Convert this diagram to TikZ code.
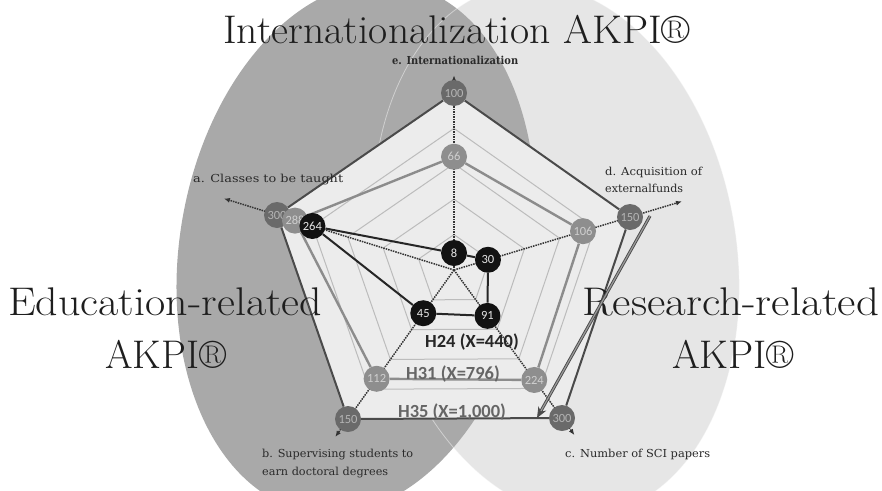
\documentclass[tikz,border=0pt]{standalone}
\usepackage{fontspec}
\usepackage{graphicx}
\newfontfamily\carlito{Carlito}
\newfontfamily\lblserif{DejaVu Serif}
\usetikzlibrary{calc,arrows.meta}
\definecolor{ellDark}{HTML}{A9A9A9}
\definecolor{ellLight}{HTML}{E6E6E6}
\definecolor{pentFill}{HTML}{ECECEC}
\definecolor{gridCol}{HTML}{BCBCBC}
\definecolor{axisCol}{HTML}{333333}
\definecolor{colFive}{HTML}{4A4A4A}
\definecolor{colOne}{HTML}{8C8C8C}
\definecolor{colFour}{HTML}{262626}
\definecolor{nodeFive}{HTML}{6A6A6A}
\definecolor{nodeOne}{HTML}{8E8E8E}
\definecolor{nodeFour}{HTML}{121212}
\definecolor{txtFive}{HTML}{B4B4B4}
\definecolor{txtOne}{HTML}{CFCFCF}
\definecolor{txtFour}{HTML}{E6E6E6}
\definecolor{bigCol}{HTML}{1E1E1E}
\definecolor{lblCol}{HTML}{2A2A2A}
\definecolor{arrowOut}{HTML}{4A4A4A}
\definecolor{arrowIn}{HTML}{9A9A9A}
\newcommand{\fitw}[2]{\resizebox{#1}{\height}{#2}}
\pgfdeclarelayer{bgzero}
\pgfdeclarelayer{bgone}
\pgfsetlayers{bgzero,bgone,main}
\begin{document}
\begin{tikzpicture}[x=1pt,y=-1pt,
  gridline/.style={draw=gridCol, line width=1pt},
  axisline/.style={draw=axisCol, line width=1.5pt, densely dotted, -{Latex[length=6pt,width=5pt]}},
  hfive/.style={draw=colFive, line width=2pt},
  hone/.style={draw=colOne, line width=2.4pt},
  hfour/.style={draw=colFour, line width=2pt},
  dotnode/.style={circle, minimum size=26pt, inner sep=0pt, font=\carlito\fontsize{12.5}{12.5}\selectfont},
  nfive/.style={dotnode, fill=nodeFive, text=txtFive},
  nthirty/.style={dotnode, fill=nodeOne, text=txtOne},
  nfour/.style={dotnode, fill=nodeFour, text=txtFour},
  bigtext/.style={inner sep=0pt, anchor=base west, font=\fontsize{40}{40}\selectfont, text=bigCol},
  smalllabel/.style={inner sep=0pt, anchor=base west, font=\lblserif\fontsize{11}{11}\selectfont, text=lblCol},
  hlabel/.style={inner sep=0pt, anchor=base, font=\carlito\bfseries\fontsize{18.5}{18.5}\selectfont},
  bigarrow/.style={draw=arrowOut, line width=0.9pt, double=arrowIn, double distance=1.2pt, -{Stealth[length=11pt,width=9pt]}}
]
\useasboundingbox (0,0) rectangle (882,490);

% key positions
\coordinate (C) at (454,270);
\coordinate (Ee) at (454,93);
\coordinate (Ed) at (630,217);
\coordinate (Ec) at (562,418);
\coordinate (Eb) at (348,419);
\coordinate (Ea) at (277,215);
\coordinate (Te) at ($(C)!1.10!(Ee)$);
\coordinate (Td) at ($(C)!1.295!(Ed)$);
\coordinate (Tc) at ($(C)!1.115!(Ec)$);
\coordinate (Tb) at ($(C)!1.12!(Eb)$);
\coordinate (Ta) at ($(C)!1.30!(Ea)$);

\begin{pgfonlayer}{bgzero}
  % ellipses
  \fill[ellLight, rotate around={10:(556,250)}] (556,250) ellipse [x radius=180pt, y radius=268pt];
  \fill[ellDark, rotate around={-10:(356,248)}] (356,248) ellipse [x radius=176pt, y radius=268pt];
  \draw[white, opacity=0.45, line width=0.8pt, rotate around={10:(556,250)}] (556,250) ellipse [x radius=180pt, y radius=268pt];
  % radar background
  \fill[pentFill] (Ee) -- (Ed) -- (Ec) -- (Eb) -- (Ea) -- cycle;
  \foreach \f in {0.2,0.4,0.6,0.8}
    \draw[gridline] ($(C)!\f!(Ee)$) -- ($(C)!\f!(Ed)$) -- ($(C)!\f!(Ec)$) -- ($(C)!\f!(Eb)$) -- ($(C)!\f!(Ea)$) -- cycle;
  % axes
  \draw[axisline] (C) -- (Te);
  \draw[axisline] (C) -- (Td);
  \draw[axisline] (C) -- (Tc);
  \draw[axisline] (C) -- (Tb);
  \draw[axisline] (C) -- (Ta);
\end{pgfonlayer}

% H35 nodes
\node[nfive] (e100) at (Ee) {100};
\node[nfive] (d150) at (Ed) {150};
\node[nfive] (c300) at (Ec) {300};
\node[nfive] (b150) at (Eb) {150};
\node[nfive] (a300) at (Ea) {300};
% H31 nodes
\node[nthirty] (e66) at ($(C)!0.64!(Ee)$) {66};
\node[nthirty] (d106) at ($(C)!0.733!(Ed)$) {106};
\node[nthirty] (c224) at ($(C)!0.743!(Ec)$) {224};
\node[nthirty] (b112) at ($(C)!0.73!(Eb)$) {112};
\node[nthirty] (a288) at ($(C)!0.898!(Ea)$) {288};
% H24 nodes
\node[nfour] (e8) at ($(C)!0.096!(Ee)$) {8};
\node[nfour] (d30) at ($(C)!0.193!(Ed)$) {30};
\node[nfour] (c91) at ($(C)!0.31!(Ec)$) {91};
\node[nfour] (b45) at ($(C)!0.29!(Eb)$) {45};
\node[nfour] (a264) at ($(C)!0.80!(Ea)$) {264};

\begin{pgfonlayer}{bgone}
  \draw[hfive] (e100) -- (d150) -- (c300) -- (b150) -- (a300) -- (e100);
  \draw[hone] (e66) -- (d106) -- (c224) -- (b112) -- (a288) -- (e66);
  \draw[hfour] (e8) -- (d30) -- (c91) -- (b45) -- (a264) -- (e8);
\end{pgfonlayer}

% series labels
\node[hlabel, text=colFour] (lH24) at (472,347) {H24 (X=440)};
\node[hlabel, text=colFive!85!white] (lH31) at (453,379) {H31 (X=796)};
\node[hlabel, text=colFive!85!white] (lH35) at (452,417) {H35 (X=1,000)};

% axis labels
\node[smalllabel, font=\lblserif\bfseries\fontsize{11}{11}\selectfont] (le) at (392,64) {\fitw{126pt}{e. Internationalization}};
\node[smalllabel] (la) at (193,182) {\fitw{150pt}{a. Classes to be taught}};
\node[smalllabel] (ld1) at (605,175) {\fitw{97pt}{d. Acquisition of}};
\node[smalllabel] (ld2) at (605,192) {\fitw{78pt}{externalfunds}};
\node[smalllabel] (lb1) at (262,457) {\fitw{151pt}{b. Supervising students to}};
\node[smalllabel] (lb2) at (262,475) {\fitw{126pt}{earn doctoral degrees}};
\node[smalllabel] (lc) at (565,457) {\fitw{145pt}{c. Number of SCI papers}};

% big titles
\node[bigtext] (tInt) at (223,43) {\fitw{467pt}{Internationalization AKPI\textregistered}};
\node[bigtext] (tEdu) at (8,315) {\fitw{314pt}{Education-related}};
\node[bigtext] (tEduA) at (105,368) {\fitw{121pt}{AKPI\textregistered}};
\node[bigtext] (tRes) at (582,315) {\fitw{297pt}{Research-related}};
\node[bigtext] (tResA) at (672,368) {\fitw{122pt}{AKPI\textregistered}};

% highlight arrow
\coordinate (As) at (650,216);
\coordinate (Ae) at (537,418);
\draw[bigarrow] (As) -- (Ae);
\end{tikzpicture}
\end{document}
